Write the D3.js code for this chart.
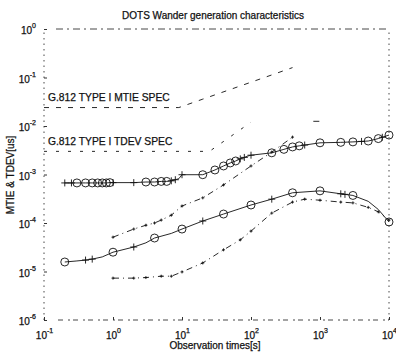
<!DOCTYPE html>
<html>
<head>
<meta charset="utf-8">
<script src="https://cdn.jsdelivr.net/npm/d3@7"></script>
<style>
  body { margin: 0; background: #fff; }
  text { font-family: "Liberation Sans", Arial, sans-serif; fill: #111; stroke: #111; stroke-width: 0.25; }
</style>
</head>
<body>
<div id="chart"></div>
<script>
const width = 396;
const height = 352;
const margin = {top: 29, right: 7, bottom: 32, left: 44};

// tick values
const xTicks = [0.1, 1, 10, 100, 1000, 10000];
const yTicks = [1e-6, 1e-5, 1e-4, 1e-3, 1e-2, 1e-1, 1];

// G.812 Type I spec masks
const mtieSpecTau = [0.1, 9, 20, 50, 100, 200, 400];
const mtieSpecVal = [0.024, 0.024, 0.0358, 0.0566, 0.08, 0.113, 0.16];
const tdevSpecTau = [0.1, 25, 50, 100];
const tdevSpecVal = [0.003, 0.003, 0.006, 0.012];
const tdevSpecTailTau = [800, 1300];
const tdevSpecTailVal = [0.0125, 0.0125];

// measured MTIE (circles, solid)
const mtieTau = [0.2, 0.3, 0.4, 0.5, 0.6, 0.7, 0.8, 0.9, 1, 2, 3, 4, 5, 6, 7, 8, 9, 10,
                 20, 30, 40, 50, 60, 70, 80, 90, 100, 200, 300, 400, 500, 1000, 2000, 3000, 5000, 7000, 10000];
const mtieVal = [6.7e-4, 6.7e-4, 6.7e-4, 6.7e-4, 6.7e-4, 6.7e-4, 6.7e-4, 6.8e-4, 6.8e-4,
                 6.8e-4, 7.0e-4, 7.0e-4, 7.2e-4, 7.2e-4, 7.4e-4, 7.8e-4, 8.2e-4, 9.9e-4,
                 9.9e-4, 1.24e-3, 1.5e-3, 1.73e-3, 1.9e-3, 2.1e-3, 2.25e-3, 2.4e-3, 2.5e-3,
                 2.8e-3, 3.3e-3, 3.7e-3, 3.9e-3, 4.5e-3, 4.6e-3, 4.7e-3, 4.9e-3, 5.5e-3, 6.5e-3];
const mtieCircleTau = [0.3, 0.4, 0.5, 0.6, 0.7, 0.8, 0.9, 3, 4, 5, 6, 20, 30, 40, 50, 60,
                       200, 300, 400, 500, 1000, 2000, 3000, 5000, 7000, 10000];
const mtiePlusTau = [0.2, 0.25, 1, 2, 7, 8, 10, 70, 80, 100, 600, 4000, 8000];

// measured TDEV (circles, solid)
const tdevTau = [0.2, 0.3, 0.4, 0.5, 0.7, 1, 2, 3, 4, 7, 10, 20, 40, 100, 200, 400,
                 1000, 2000, 3000, 5000, 7000, 10000];
const tdevVal = [1.57e-5, 1.65e-5, 1.72e-5, 1.8e-5, 2.0e-5, 2.5e-5, 3.2e-5, 3.9e-5, 4.9e-5,
                 6.1e-5, 7.5e-5, 1.1e-4, 1.53e-4, 2.35e-4, 3.1e-4, 4.2e-4, 4.6e-4, 4.0e-4,
                 3.7e-4, 2.8e-4, 1.9e-4, 1.05e-4];
const tdevCircleTau = [0.2, 1, 4, 10, 40, 100, 400, 1000, 3000, 10000];
const tdevPlusTau = [0.4, 0.5, 2, 20, 200, 2000, 2300];

// second measurement, MTIE and TDEV (dash-dot)
const mtie2Tau = [1, 2, 3, 4, 5, 7, 10, 20, 40, 100, 200, 400];
const mtie2Val = [5.1e-5, 7.5e-5, 9.0e-5, 1.0e-4, 1.15e-4, 1.45e-4, 2.24e-4, 3.3e-4, 6.1e-4,
                  1.5e-3, 2.9e-3, 5.9e-3];
const tdev2Tau = [1, 2, 3, 5, 7, 10, 20, 40, 70, 100, 200, 400, 600, 1000, 2000, 3000, 5000, 7000, 10000];
const tdev2Val = [7.3e-6, 7.3e-6, 7.5e-6, 8.0e-6, 8.0e-6, 9.8e-6, 1.5e-5, 2.8e-5, 4.5e-5,
                  6.8e-5, 1.6e-4, 2.7e-4, 3.1e-4, 2.95e-4, 2.7e-4, 2.6e-4, 2.1e-4, 1.7e-4, 1.15e-4];

const svg = d3.select("#chart").append("svg")
  .attr("width", width)
  .attr("height", height);

const x = d3.scaleLog().domain([0.1, 10000]).range([margin.left, width - margin.right]);
const y = d3.scaleLog().domain([1e-6, 1]).range([height - margin.bottom, margin.top]);

const x0 = x.range()[0], x1 = x.range()[1];
const y0 = y.range()[0], y1 = y.range()[1];

// frame (looks broken in the scan)
const frame = svg.append("g").attr("stroke", "#333").attr("fill", "none").attr("stroke-width", 0.9);
frame.append("line").attr("x1", x0 + 12).attr("x2", x1).attr("y1", y1).attr("y2", y1)
  .attr("stroke-dasharray", "7,4,2,4");
frame.append("line").attr("x1", x0 + 14).attr("x2", x1).attr("y1", y0).attr("y2", y0)
  .attr("stroke-dasharray", "5,5,2,3");
frame.append("line").attr("x1", x0).attr("x2", x0).attr("y1", y0).attr("y2", y1)
  .attr("stroke-dasharray", "1.5,4");
frame.append("line").attr("x1", x1).attr("x2", x1).attr("y1", y0).attr("y2", y1)
  .attr("stroke-dasharray", "1.5,4");

function supLabel(sel) {
  sel.each(function(d) {
    const t = d3.select(this);
    const e = Math.round(Math.log10(d));
    t.text("");
    t.append("tspan").text("10");
    t.append("tspan").attr("dy", -6).attr("font-size", 7).text(e);
  });
}

const xAxis = svg.append("g")
  .attr("transform", `translate(0,${y0})`)
  .call(d3.axisBottom(x).tickValues(xTicks).tickSize(-3).tickPadding(8));
xAxis.select(".domain").remove();
xAxis.selectAll(".tick line").attr("stroke", "#333");
xAxis.selectAll(".tick text").attr("font-size", 10).attr("dy", "1.1em").call(supLabel);

const yAxis = svg.append("g")
  .attr("transform", `translate(${x0},0)`)
  .call(d3.axisLeft(y).tickValues(yTicks).tickSize(-3).tickPadding(8));
yAxis.select(".domain").remove();
yAxis.selectAll(".tick line").attr("stroke", "#333");
yAxis.selectAll(".tick text").attr("font-size", 10).attr("dy", "0.45em").call(supLabel);

// title and axis labels
svg.append("text").attr("x", 213).attr("y", 19).attr("text-anchor", "middle")
  .attr("font-size", 10).text("DOTS Wander generation characteristics");
svg.append("text").attr("x", 215).attr("y", 349).attr("text-anchor", "middle")
  .attr("font-size", 10).text("Observation times[s]");
svg.append("text").attr("transform", "translate(14,175) rotate(-90)").attr("text-anchor", "middle")
  .attr("font-size", 10).text("MTIE & TDEV[us]");

const line = d3.line().x(d => x(d[0])).y(d => y(d[1]));
const zipPts = (t, v) => t.map((d, i) => [d, v[i]]);
const interp = (t, v, tt) => {
  const lt = tt.map(Math.log10);
  return lt.map(l => {
    let i = d3.bisectRight(t.map(Math.log10), l) - 1;
    i = Math.max(0, Math.min(t.length - 2, i));
    const a = Math.log10(t[i]), b = Math.log10(t[i + 1]);
    const f = (l - a) / (b - a);
    return Math.pow(10, Math.log10(v[i]) + f * (Math.log10(v[i + 1]) - Math.log10(v[i])));
  });
};

const plot = svg.append("g").attr("fill", "none").attr("stroke", "#111");

// spec masks
plot.append("path").attr("d", line(zipPts(mtieSpecTau, mtieSpecVal)))
  .attr("stroke-width", 0.9).attr("stroke-dasharray", "5,7");
plot.append("path").attr("d", line(zipPts(tdevSpecTau, tdevSpecVal)))
  .attr("stroke-width", 0.9).attr("stroke-dasharray", "3,9");
plot.append("path").attr("d", line(zipPts(tdevSpecTailTau, tdevSpecTailVal)))
  .attr("stroke-width", 0.9).attr("stroke-dasharray", "6,12");

svg.append("text").attr("x", 48).attr("y", 101).attr("font-size", 10.3).text("G.812 TYPE I MTIE SPEC");
svg.append("text").attr("x", 48).attr("y", 145).attr("font-size", 10.3).text("G.812 TYPE I TDEV SPEC");

// second measurement curves
plot.append("path").attr("d", line(zipPts(mtie2Tau, mtie2Val)))
  .attr("stroke-width", 0.9).attr("stroke-dasharray", "6,4,1,4");
plot.append("path").attr("d", line(zipPts(tdev2Tau, tdev2Val)))
  .attr("stroke-width", 0.9).attr("stroke-dasharray", "6,4,1,4");

// measured curves
plot.append("path").attr("d", line(zipPts(mtieTau, mtieVal))).attr("stroke-width", 0.9);
plot.append("path").attr("d", line(zipPts(tdevTau, tdevVal))).attr("stroke-width", 0.9);

function circles(tt, vv) {
  plot.append("g").selectAll("circle").data(zipPts(tt, vv)).join("circle")
    .attr("cx", d => x(d[0])).attr("cy", d => y(d[1])).attr("r", 4)
    .attr("stroke-width", 0.9);
}
function pluses(tt, vv, s) {
  plot.append("g").selectAll("path").data(zipPts(tt, vv)).join("path")
    .attr("d", d => `M${x(d[0]) - s},${y(d[1])}h${2 * s}M${x(d[0])},${y(d[1]) - s}v${2 * s}`)
    .attr("stroke-width", 0.9);
}

circles(mtieCircleTau, interp(mtieTau, mtieVal, mtieCircleTau));
pluses(mtiePlusTau, interp(mtieTau, mtieVal, mtiePlusTau), 3.5);
circles(tdevCircleTau, interp(tdevTau, tdevVal, tdevCircleTau));
pluses(tdevPlusTau, interp(tdevTau, tdevVal, tdevPlusTau), 3.5);
pluses(mtie2Tau, mtie2Val, 1.5);
pluses(tdev2Tau, tdev2Val, 1.5);
</script>
</body>
</html>
